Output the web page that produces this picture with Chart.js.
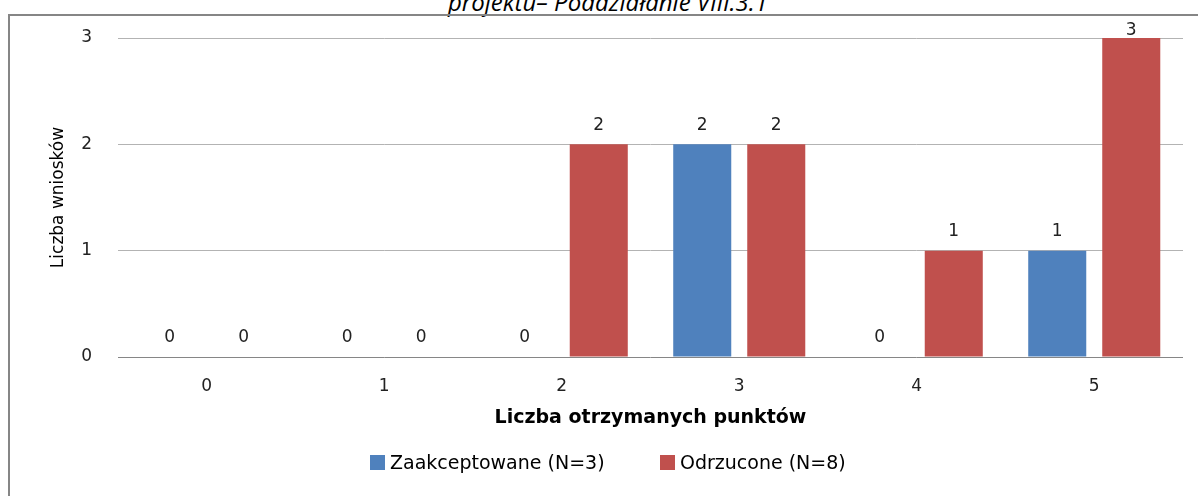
<!DOCTYPE html>
<html lang="pl">
<head>
    <meta charset="UTF-8">
    <title>Liczba wniosków wg liczby otrzymanych punktów</title>
    <script src="https://cdn.jsdelivr.net/npm/chart.js"></script>
    <style>
        body {
            margin: 0;
            width: 1198px;
            height: 496px;
            overflow: hidden;
            background: #ffffff;
            font-family: "DejaVu Sans", sans-serif;
            position: relative;
        }
        .frame {
            position: absolute;
            left: 8px;
            top: 14px;
            width: 1300px;
            height: 600px;
            border: 2px solid #868686;
        }
        .title {
            position: absolute;
            left: 8px;
            width: 1200px;
            top: -15px;
            text-align: center;
            font-family: "Open Sans", sans-serif;
            font-style: italic;
            font-size: 24px;
            color: #000;
            white-space: nowrap;
        }
        canvas {
            position: absolute;
            left: 0;
            top: 0;
        }
        .legend-item {
            position: absolute;
            top: 451px;
            font-size: 19px;
            color: #000;
            white-space: nowrap;
            line-height: 22px;
        }
        .legend-item span {
            display: inline-block;
            width: 15px;
            height: 15px;
            margin-right: 5px;
            vertical-align: -1px;
        }
    </style>
</head>
<body>
    <div class="title">projektu– Poddziałanie VIII.3.1</div>
    <div class="frame"></div>
    <canvas id="chart" width="1198" height="496"></canvas>
    <div class="legend-item" style="left:370px"><span style="background:#4F81BD"></span>Zaakceptowane (N=3)</div>
    <div class="legend-item" style="left:660px"><span style="background:#C0504D"></span>Odrzucone (N=8)</div>

    <script>
        const punkty = ['0', '1', '2', '3', '4', '5'];
        const zaakceptowane = [0, 0, 0, 2, 0, 1];
        const odrzucone = [0, 0, 2, 2, 1, 3];
        const yTicks = [0, 1, 2, 3];

        // value above each bar (no datalabels plugin available offline)
        const valueLabels = {
            id: 'valueLabels',
            afterDatasetsDraw(chart) {
                const ctx = chart.ctx;
                ctx.save();
                ctx.font = '17px "DejaVu Sans"';
                ctx.fillStyle = '#222';
                ctx.textAlign = 'center';
                ctx.textBaseline = 'middle';
                chart.data.datasets.forEach((ds, i) => {
                    chart.getDatasetMeta(i).data.forEach((bar, j) => {
                        const y = Math.max(bar.y - 19, chart.chartArea.top - 7);
                        ctx.fillText(ds.data[j], bar.x, y);
                    });
                });
                ctx.restore();
            }
        };

        new Chart(document.getElementById('chart'), {
            type: 'bar',
            data: {
                labels: punkty,
                datasets: [{
                    label: 'Zaakceptowane (N=3)',
                    data: zaakceptowane,
                    backgroundColor: '#4F81BD',
                    barPercentage: 0.784,
                    categoryPercentage: 0.834
                }, {
                    label: 'Odrzucone (N=8)',
                    data: odrzucone,
                    backgroundColor: '#C0504D',
                    barPercentage: 0.784,
                    categoryPercentage: 0.834
                }]
            },
            options: {
                responsive: false,
                animation: false,
                layout: {
                    padding: { left: 46, top: 38, right: 15, bottom: 56 }
                },
                plugins: {
                    legend: { display: false },
                    tooltip: { enabled: false }
                },
                scales: {
                    x: {
                        grid: { display: false, drawTicks: false },
                        border: { display: false },
                        ticks: {
                            color: '#222',
                            font: { family: 'DejaVu Sans', size: 17 },
                            padding: 19
                        },
                        title: {
                            display: true,
                            text: 'Liczba otrzymanych punktów',
                            color: '#000',
                            font: { family: 'DejaVu Sans', size: 19, weight: 'bold' },
                            padding: { top: 0, bottom: 10.6 }
                        },
                        afterFit: (scale) => { scale.height = 83; }
                    },
                    y: {
                        min: 0,
                        max: 3,
                        afterBuildTicks: (scale) => {
                            scale.ticks = yTicks.map(v => ({ value: v }));
                        },
                        grid: {
                            drawTicks: false,
                            color: (c) => c.tick && c.tick.value === 0 ? '#868686' : '#b3b3b3',
                            lineWidth: 1
                        },
                        border: { display: false },
                        ticks: {
                            color: '#222',
                            font: { family: 'DejaVu Sans', size: 17 },
                            padding: 26
                        },
                        title: {
                            display: true,
                            text: 'Liczba wniosków',
                            color: '#000',
                            font: { family: 'DejaVu Sans', size: 17 },
                            padding: { top: 2, bottom: 0 }
                        },
                        afterFit: (scale) => { scale.width = 72; }
                    }
                }
            },
            plugins: [valueLabels]
        });
    </script>
</body>
</html>
